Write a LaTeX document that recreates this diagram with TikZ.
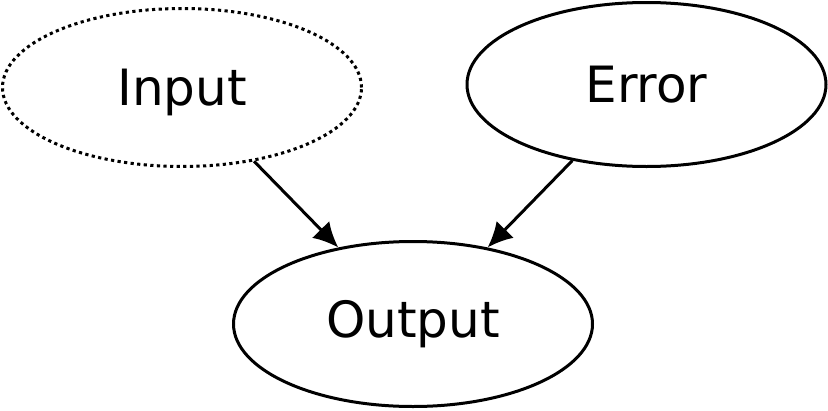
\documentclass[tikz,border=0pt]{standalone}
\usepackage{fontspec}
\setmainfont{DejaVu Sans}
\usetikzlibrary{shapes.geometric,arrows.meta}
\begin{document}
\begin{tikzpicture}[x=1pt,y=-1pt,
  ell/.style={draw, ellipse, line width=3pt, inner sep=0pt, minimum width=359pt, minimum height=162pt, font=\fontsize{50}{60}\selectfont},
  dottedell/.style={ell, dash pattern=on 3.2pt off 3.4pt},
  arr/.style={line width=3pt, -{Latex[length=25pt,width=24pt]}}]
\useasboundingbox (0,0) rectangle (828,410);
\node[dottedell, minimum height=158pt] (in) at (182,87.5) {\raisebox{-5pt}[\height][\depth]{Input}};
\node[ell, minimum height=164pt] (err) at (646.5,84.5) {Error};
\node[ell, minimum height=165pt] (out) at (413,324) {Output};
\draw[arr] (in) -- (out);
\draw[arr] (err) -- (out);
\end{tikzpicture}
\end{document}
